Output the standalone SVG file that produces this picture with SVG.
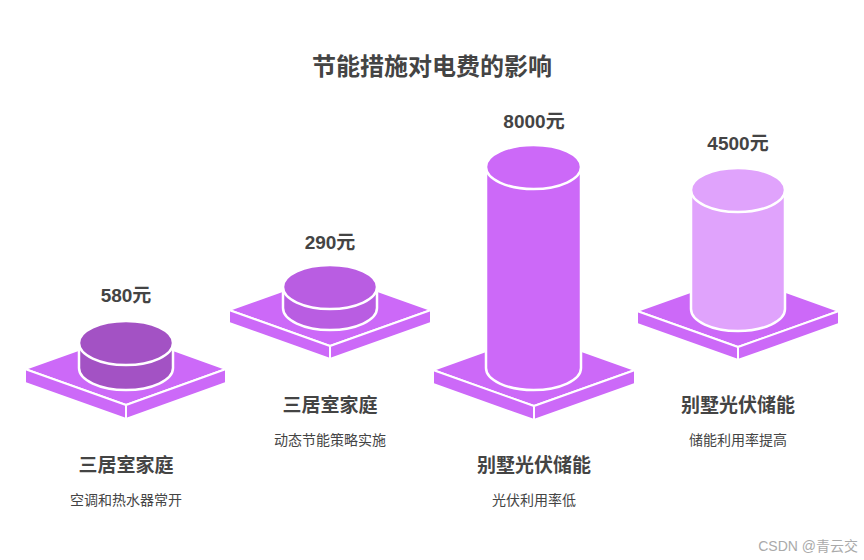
<svg xmlns="http://www.w3.org/2000/svg" width="864" height="560" viewBox="0 0 864 560">
<style>
.pf{fill:#CC69F8;stroke:#fff;stroke-width:2;stroke-linejoin:round}
.cy{stroke:#fff;stroke-width:2.5}
.val{font-family:"Liberation Sans","Noto Sans CJK SC",sans-serif;font-weight:bold;font-size:19px;fill:#444;text-anchor:middle}
.ttl{font-family:"Noto Sans CJK SC",sans-serif;font-weight:bold;font-size:19px;fill:#444;text-anchor:middle}
.sub{font-family:"Noto Sans CJK SC",sans-serif;font-size:14px;fill:#444;text-anchor:middle}
</style>
<rect width="864" height="560" fill="#fff"/>
<text x="432" y="75" class="ttl" style="font-size:24px">节能措施对电费的影响</text>
<g id="n1">
<path class="pf" d="M25 369 L126 333 L226 369 L126 405 Z"/>
<path class="pf" d="M25 369 L126 405 L126 419 L25 383 Z"/>
<path class="pf" d="M226 369 L126 405 L126 419 L226 383 Z"/>
<path class="cy" fill="#A352C4" d="M79 343 V368 A47 22 0 0 0 173 368 V343 Z"/>
<ellipse class="cy" fill="#A352C4" cx="126" cy="343" rx="47" ry="22"/>
<text x="126" y="302" class="val">580元</text>
<text x="126" y="472" class="ttl">三居室家庭</text>
<text x="126" y="505" class="sub">空调和热水器常开</text>
</g>
<g id="n2">
<path class="pf" d="M229 310 L330 274 L431 310 L330 346 Z"/>
<path class="pf" d="M229 310 L330 346 L330 359 L229 323 Z"/>
<path class="pf" d="M431 310 L330 346 L330 359 L431 323 Z"/>
<path class="cy" fill="#B95DE2" d="M283 287 V308 A47 22 0 0 0 377 308 V287 Z"/>
<ellipse class="cy" fill="#B95DE2" cx="330" cy="287" rx="47" ry="22"/>
<text x="330" y="249" class="val">290元</text>
<text x="330" y="412" class="ttl">三居室家庭</text>
<text x="330" y="445" class="sub">动态节能策略实施</text>
</g>
<g id="n3">
<path class="pf" d="M433 370 L534 334 L635 370 L534 406 Z"/>
<path class="pf" d="M433 370 L534 406 L534 420 L433 384 Z"/>
<path class="pf" d="M635 370 L534 406 L534 420 L635 384 Z"/>
<path class="cy" fill="#CC69F8" d="M486 167 V368 A47.5 22 0 0 0 581 368 V167 Z"/>
<ellipse class="cy" fill="#CC69F8" cx="533.5" cy="167" rx="47.5" ry="22"/>
<text x="534" y="128" class="val">8000元</text>
<text x="534" y="472" class="ttl">别墅光伏储能</text>
<text x="534" y="505" class="sub">光伏利用率低</text>
</g>
<g id="n4">
<path class="pf" d="M637 311 L738 275 L839 311 L738 347 Z"/>
<path class="pf" d="M637 311 L738 347 L738 360 L637 324 Z"/>
<path class="pf" d="M839 311 L738 347 L738 360 L839 324 Z"/>
<path class="cy" fill="#E0A3FC" d="M691 190 V309 A47 22 0 0 0 785 309 V190 Z"/>
<ellipse class="cy" fill="#E0A3FC" cx="738" cy="190" rx="47" ry="22"/>
<text x="738" y="150" class="val">4500元</text>
<text x="738" y="412" class="ttl">别墅光伏储能</text>
<text x="738" y="445" class="sub">储能利用率提高</text>
</g>
<g id="connectors"/>
<text x="858" y="551" font-family="Liberation Sans,Noto Sans CJK SC,sans-serif" font-size="14" fill="#aaa" text-anchor="end">CSDN @青云交</text>
</svg>
